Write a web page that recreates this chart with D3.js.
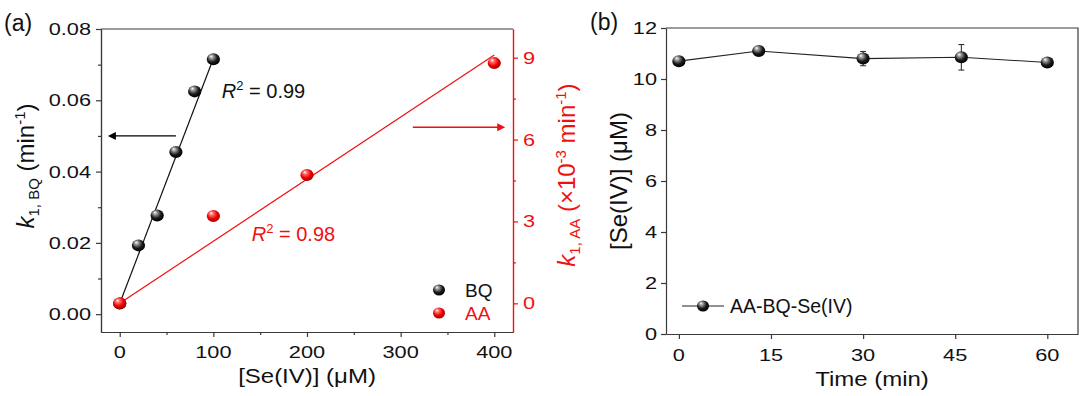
<!DOCTYPE html>
<html>
<head>
<meta charset="utf-8">
<script src="https://cdn.jsdelivr.net/npm/d3@7"></script>
<style>
  body { margin: 0; background: #fff; }
  svg { display: block; font-family: "Liberation Sans", Arial, sans-serif; }
</style>
</head>
<body>
<svg></svg>
<script>
// panel (a) data
let bqConc = [0, 20, 40, 60, 80, 100];
let bqRate = [0.003, 0.0193, 0.0277, 0.0455, 0.0625, 0.0715];
let aaConc = [0, 100, 200, 400];
let aaRate = [0, 3.2, 4.7, 8.8];
let bqFit = [[0, 0.003], [100, 0.0717]];
let aaFit = [[0, 0], [400, 9.1]];
let xTicksA = [0, 100, 200, 300, 400];
let yTicksL = [0, 0.02, 0.04, 0.06, 0.08];
let yTicksR = [0, 3, 6, 9];

// panel (b) data
let timeMin = [0, 13, 30, 46, 60];
let seConc = [10.7, 11.1, 10.8, 10.85, 10.65];
let seErr = [0.05, 0.05, 0.28, 0.5, 0.05];
let xTicksB = [0, 15, 30, 45, 60];
let yTicksB = [0, 2, 4, 6, 8, 10, 12];

let width = 1080;
let height = 396;
let red = '#f01010';
let frameColor = '#3a3a3a';
let SX = 1.28;      // tick labels in the picture are drawn wide
let tickFont = 17;

let svg = d3.select('svg')
    .attr('width', width)
    .attr('height', height);

let defs = svg.append('defs');
ballGradient('ballBlack', ['#ffffff', '#9a9a9a', '#1a1a1a', '#000000']);
ballGradient('ballRed', ['#ffffff', '#ff7070', '#ee0000', '#a00000']);
arrowMarker('arrowBlack', '#000');
arrowMarker('arrowRed', red);

// ---------- panel (a) ----------
let xA = d3.scaleLinear().domain([-20, 420]).range([101, 513]);
let yL = d3.scaleLinear().domain([-0.005, 0.08]).range([332, 29]);
let yR = d3.scaleLinear().domain([-1.05, 10.05]).range([332, 29]);

let ga = svg.append('g');

ga.append('path')
    .attr('d', `M${xA.range()[0]},${yL.range()[1]}H${xA.range()[1]}`)
    .attr('stroke', frameColor).attr('stroke-width', 1.2);

addAxis(ga, d3.axisBottom(xA).tickValues(xTicksA).tickSize(5),
    `translate(0,${yL.range()[0]})`, frameColor);
addAxis(ga, d3.axisBottom(xA).tickValues([50, 150, 250, 350]).tickSize(3),
    `translate(0,${yL.range()[0]})`, frameColor);
addAxis(ga, d3.axisLeft(yL).tickValues(yTicksL).tickSize(5),
    `translate(${xA.range()[0]},0)`, frameColor);
addAxis(ga, d3.axisLeft(yL).tickValues([0.01, 0.03, 0.05, 0.07]).tickSize(3),
    `translate(${xA.range()[0]},0)`, frameColor);
addAxis(ga, d3.axisRight(yR).tickValues(yTicksR).tickSize(5),
    `translate(${xA.range()[1]},0)`, red);
addAxis(ga, d3.axisRight(yR).tickValues([1.5, 4.5, 7.5]).tickSize(3),
    `translate(${xA.range()[1]},0)`, red);

xTicksA.forEach(v => wideText(ga, xA(v), 358, String(v), tickFont, SX, 'middle', '#111'));
yTicksL.forEach(v => wideText(ga, xA.range()[0] - 10, yL(v) + 6, d3.format('.2f')(v), tickFont, SX, 'end', '#111'));
yTicksR.forEach(v => wideText(ga, xA.range()[1] + 10, yR(v) + 6, String(v), tickFont, SX, 'start', red));

ga.append('line')
    .attr('x1', xA(bqFit[0][0])).attr('y1', yL(bqFit[0][1]))
    .attr('x2', xA(bqFit[1][0])).attr('y2', yL(bqFit[1][1]))
    .attr('stroke', '#111').attr('stroke-width', 1.2);
ga.append('line')
    .attr('x1', xA(aaFit[0][0])).attr('y1', yR(aaFit[0][1]))
    .attr('x2', xA(aaFit[1][0])).attr('y2', yR(aaFit[1][1]))
    .attr('stroke', red).attr('stroke-width', 1.2);

ga.selectAll('.bq')
    .data(bqConc)
    .enter()
    .append('ellipse')
        .attr('cx', d => xA(d))
        .attr('cy', (d, i) => yL(bqRate[i]))
        .attr('rx', 6.6).attr('ry', 6)
        .attr('fill', 'url(#ballBlack)');

ga.selectAll('.aa')
    .data(aaConc)
    .enter()
    .append('ellipse')
        .attr('cx', d => xA(d))
        .attr('cy', (d, i) => yR(aaRate[i]))
        .attr('rx', 6.6).attr('ry', 6)
        .attr('fill', 'url(#ballRed)');

// arrows pointing to each axis
ga.append('line')
    .attr('x1', xA(60)).attr('y1', yL(0.05))
    .attr('x2', xA(-5)).attr('y2', yL(0.05))
    .attr('stroke', '#000').attr('stroke-width', 1.3)
    .attr('marker-end', 'url(#arrowBlack)');
ga.append('line')
    .attr('x1', xA(313)).attr('y1', yR(6.45))
    .attr('x2', xA(404)).attr('y2', yR(6.45))
    .attr('stroke', red).attr('stroke-width', 1.3)
    .attr('marker-end', 'url(#arrowRed)');

r2Label(ga, xA(109), yL(0.0606), '0.99', '#111');
r2Label(ga, xA(141), yR(2.28), '0.98', red);

// legend
let legendA = [['BQ', 'url(#ballBlack)', '#111'], ['AA', 'url(#ballRed)', red]];
legendA.forEach((d, i) => {
    ga.append('ellipse')
        .attr('cx', 439).attr('cy', 290 + i * 23)
        .attr('rx', 6).attr('ry', 5.5)
        .attr('fill', d[1]);
    ga.append('text')
        .attr('x', 465).attr('y', 297 + i * 23)
        .attr('font-size', 19)
        .attr('fill', d[2])
        .text(d[0]);
});

wideText(ga, (xA.range()[0] + xA.range()[1]) / 2, 383, '[Se(IV)] (\u03bcM)', 20, 1.2, 'middle', '#111');

let tl = ga.append('text')
    .attr('transform', `translate(34,166) rotate(-90)`)
    .attr('text-anchor', 'middle')
    .attr('font-size', 24)
    .attr('fill', '#111');
tl.append('tspan').attr('font-style', 'italic').text('k');
tl.append('tspan').attr('font-size', 15).attr('dy', 5).text('1, BQ');
tl.append('tspan').attr('dy', -5).text(' (min');
tl.append('tspan').attr('font-size', 15).attr('dy', -9).text('-1');
tl.append('tspan').attr('dy', 9).text(')');

let tr = ga.append('text')
    .attr('transform', `translate(575,175) rotate(-90)`)
    .attr('text-anchor', 'middle')
    .attr('font-size', 24)
    .attr('fill', red);
tr.append('tspan').attr('font-style', 'italic').text('k');
tr.append('tspan').attr('font-size', 15).attr('dy', 5).text('1, AA');
tr.append('tspan').attr('dy', -5).text(' (\u00d710');
tr.append('tspan').attr('font-size', 15).attr('dy', -9).text('-3');
tr.append('tspan').attr('dy', 9).text(' min');
tr.append('tspan').attr('font-size', 15).attr('dy', -9).text('-1');
tr.append('tspan').attr('dy', 9).text(')');

ga.append('text')
    .attr('x', 4).attr('y', 31)
    .attr('font-size', 23)
    .attr('fill', '#111')
    .text('(a)');

// ---------- panel (b) ----------
let xB = d3.scaleLinear().domain([-2.1, 65]).range([666, 1078]);
let yB = d3.scaleLinear().domain([0, 12]).range([334, 28]);

let gb = svg.append('g');

gb.append('path')
    .attr('d', `M${xB.range()[0]},${yB.range()[1]}H${xB.range()[1]}V${yB.range()[0]}`)
    .attr('fill', 'none')
    .attr('stroke', frameColor).attr('stroke-width', 1.2);

addAxis(gb, d3.axisBottom(xB).tickValues(xTicksB).tickSize(5),
    `translate(0,${yB.range()[0]})`, frameColor);
addAxis(gb, d3.axisLeft(yB).tickValues(yTicksB).tickSize(5),
    `translate(${xB.range()[0]},0)`, frameColor);

xTicksB.forEach(v => wideText(gb, xB(v), 361, String(v), tickFont, SX, 'middle', '#111'));
yTicksB.forEach(v => wideText(gb, xB.range()[0] - 9, yB(v) + 6, String(v), tickFont, SX, 'end', '#111'));

gb.append('path')
    .datum(timeMin)
    .attr('d', d3.line().x(d => xB(d)).y((d, i) => yB(seConc[i])))
    .attr('fill', 'none')
    .attr('stroke', '#222').attr('stroke-width', 1.1);

let errG = gb.selectAll('.err')
    .data(timeMin)
    .enter()
    .append('g')
        .attr('stroke', '#222').attr('stroke-width', 1);
errG.append('line')
    .attr('x1', d => xB(d)).attr('x2', d => xB(d))
    .attr('y1', (d, i) => yB(seConc[i] - seErr[i]))
    .attr('y2', (d, i) => yB(seConc[i] + seErr[i]));
errG.append('line')
    .attr('x1', d => xB(d) - 3).attr('x2', d => xB(d) + 3)
    .attr('y1', (d, i) => yB(seConc[i] - seErr[i]))
    .attr('y2', (d, i) => yB(seConc[i] - seErr[i]));
errG.append('line')
    .attr('x1', d => xB(d) - 3).attr('x2', d => xB(d) + 3)
    .attr('y1', (d, i) => yB(seConc[i] + seErr[i]))
    .attr('y2', (d, i) => yB(seConc[i] + seErr[i]));

gb.selectAll('.se')
    .data(timeMin)
    .enter()
    .append('ellipse')
        .attr('cx', d => xB(d))
        .attr('cy', (d, i) => yB(seConc[i]))
        .attr('rx', 6.6).attr('ry', 6)
        .attr('fill', 'url(#ballBlack)');

gb.append('line')
    .attr('x1', 682).attr('x2', 724).attr('y1', 306).attr('y2', 306)
    .attr('stroke', '#222').attr('stroke-width', 1.1);
gb.append('ellipse')
    .attr('cx', 703).attr('cy', 306)
    .attr('rx', 6).attr('ry', 5.5)
    .attr('fill', 'url(#ballBlack)');
gb.append('text')
    .attr('x', 730).attr('y', 313)
    .attr('font-size', 19.5)
    .attr('fill', '#111')
    .text('AA-BQ-Se(IV)');

wideText(gb, (xB.range()[0] + xB.range()[1]) / 2, 386, 'Time (min)', 20, 1.2, 'middle', '#111');

gb.append('text')
    .attr('transform', `translate(627,181) rotate(-90)`)
    .attr('text-anchor', 'middle')
    .attr('font-size', 24)
    .attr('fill', '#111')
    .text('[Se(IV)] (\u03bcM)');

gb.append('text')
    .attr('x', 590).attr('y', 30)
    .attr('font-size', 23)
    .attr('fill', '#111')
    .text('(b)');


function addAxis(g, axis, transform, lineColor) {
    let a = g.append('g')
        .attr('transform', transform)
        .call(axis.tickSizeOuter(0).tickFormat(''));
    a.select('.domain').attr('stroke', lineColor).attr('stroke-width', 1.2);
    a.selectAll('.tick line').attr('stroke', lineColor).attr('stroke-width', 1.2);
    a.selectAll('.tick text').remove();
    return a;
}

function wideText(g, x, y, str, size, sx, anchor, color) {
    return g.append('text')
        .attr('transform', `translate(${x},${y}) scale(${sx},1)`)
        .attr('text-anchor', anchor)
        .attr('font-size', size)
        .attr('fill', color)
        .text(str);
}

function r2Label(g, x, y, value, color) {
    let t = g.append('text')
        .attr('x', x).attr('y', y)
        .attr('font-size', 20)
        .attr('fill', color);
    t.append('tspan').attr('font-style', 'italic').text('R');
    t.append('tspan').attr('font-size', 13).attr('dy', -8).text('2');
    t.append('tspan').attr('dy', 8).text(' = ' + value);
}

function ballGradient(id, colors) {
    let grad = defs.append('radialGradient')
        .attr('id', id)
        .attr('cx', '45%').attr('cy', '40%').attr('r', '60%')
        .attr('fx', '32%').attr('fy', '25%');
    [0, 0.25, 0.65, 1].forEach((o, i) => {
        grad.append('stop').attr('offset', o).attr('stop-color', colors[i]);
    });
}

function arrowMarker(id, color) {
    defs.append('marker')
        .attr('id', id)
        .attr('viewBox', '0 0 10 10')
        .attr('refX', 1).attr('refY', 5)
        .attr('markerWidth', 16).attr('markerHeight', 8)
        .attr('markerUnits', 'userSpaceOnUse')
        .attr('orient', 'auto')
        .append('path')
            .attr('d', 'M0,0L10,5L0,10Z')
            .attr('fill', color);
}
</script>
</body>
</html>
